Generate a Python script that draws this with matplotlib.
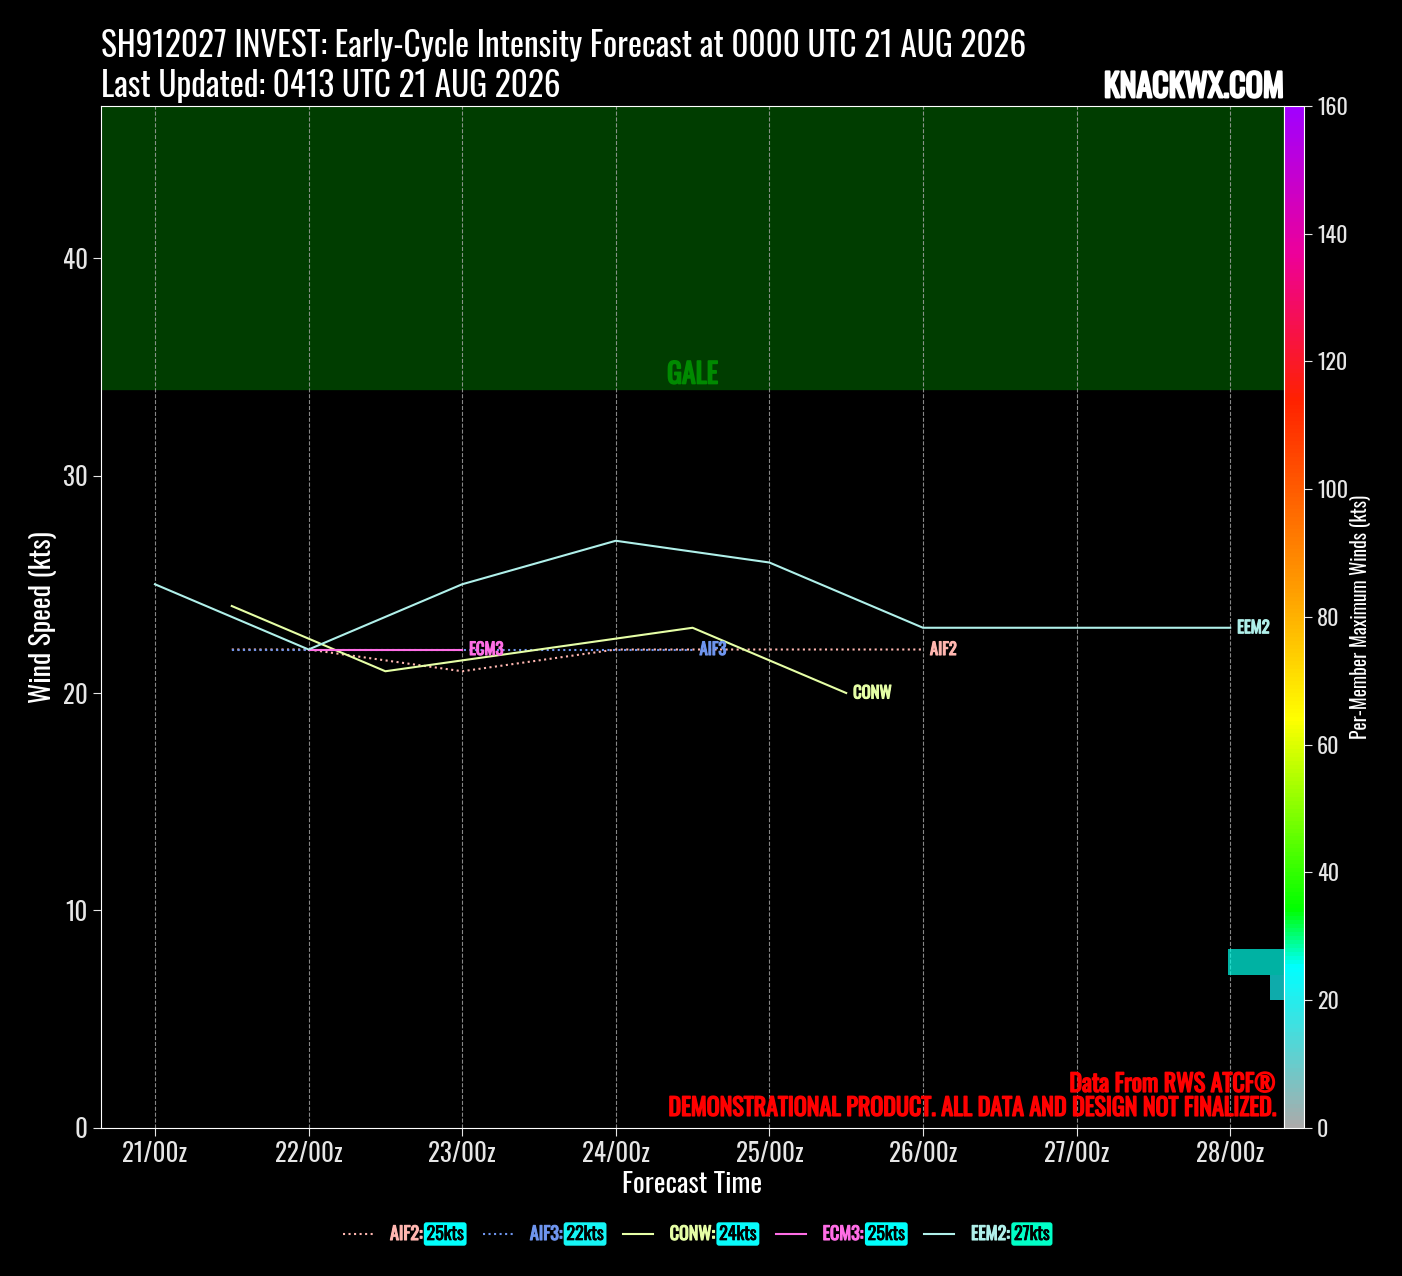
import numpy as np
import matplotlib
matplotlib.use("Agg")
import matplotlib.pyplot as plt
import matplotlib.patheffects as pe
from matplotlib.colors import LinearSegmentedColormap, Normalize
from matplotlib.lines import Line2D
import matplotlib.colorbar as mcolorbar

plt.rcParams['font.family'] = ['Oswald', 'DejaVu Sans']

# forecast hours from 0000 UTC 21 AUG
aif2_hr = [12, 24, 36, 48, 60, 72, 84, 96, 108, 120]
aif2_kt = [22, 22, 21.5, 21, 21.5, 22, 22, 22, 22, 22]
aif3_hr = [12, 24, 36, 48, 60, 72, 84]
aif3_kt = [22, 22, 22, 22, 22, 22, 22]
conw_hr = [12, 24, 36, 48, 60, 72, 84, 96, 108]
conw_kt = [24, 22.5, 21, 21.5, 22, 22.5, 23, 21.5, 20]
ecm3_hr = [24, 36, 48]
ecm3_kt = [22, 22, 22]
eem2_hr = [0, 12, 24, 36, 48, 60, 72, 84, 96, 108, 120, 132, 144, 156, 168]
eem2_kt = [25, 23.5, 22, 23.5, 25, 26, 27, 26.5, 26, 24.5, 23, 23, 23, 23, 23]

names = ['AIF2', 'AIF3', 'CONW', 'ECM3', 'EEM2']
max_winds = [25, 22, 24, 25, 27]
colors = ['#ffb6b0', '#6f95ee', '#e6ffa6', '#ff6ee6', '#b0f0ea']
styles = [':', ':', '-', '-', '-']
hours = [aif2_hr, aif3_hr, conw_hr, ecm3_hr, eem2_hr]
winds = [aif2_kt, aif3_kt, conw_kt, ecm3_kt, eem2_kt]

day_ticks = [0, 24, 48, 72, 96, 120, 144, 168]
day_labels = ['21/00z', '22/00z', '23/00z', '24/00z', '25/00z', '26/00z', '27/00z', '28/00z']

cmap = LinearSegmentedColormap.from_list('winds', [
    (0.0, (0.67, 0.67, 0.67)),
    (25 / 160, (0.0, 1.0, 1.0)),
    (34 / 160, (0.0, 1.0, 0.0)),
    (64 / 160, (1.0, 1.0, 0.0)),
    (84 / 160, (1.0, 0.62, 0.0)),
    (114 / 160, (1.0, 0.13, 0.0)),
    (137 / 160, (0.93, 0.0, 0.6)),
    (1.0, (0.63, 0.0, 1.0)),
])
norm = Normalize(0, 160)


def bold(c, w=0.9):
    # Oswald here has one weight only, so thicken the glyphs with a stroke
    return [pe.withStroke(linewidth=w, foreground=c)]


fig = plt.figure(figsize=(14.02, 12.76), dpi=100, facecolor='black')
ax = fig.add_axes([0.072, 0.116, 0.8438, 0.8011])
ax.set_facecolor('black')

ax.axhspan(34, 47, color='#003d00', zorder=0)
ax.text(84, 34.0, 'GALE', color='#008a00', fontsize=20,
        ha='center', va='bottom', path_effects=bold('#008a00', 1.2))

for n, h, w, c, s in zip(names, hours, winds, colors, styles):
    ax.plot(h, w, color=c, linestyle=s, linewidth=1.5, zorder=3)
    ax.annotate(n, (h[-1], w[-1]), xytext=(5, 0), textcoords='offset points',
                color=c, fontsize=12, va='center', zorder=4,
                path_effects=bold(c, 0.8))

ax.set_xlim(-8.44, 176.4)
ax.set_ylim(0, 47)
ax.set_xticks(day_ticks)
ax.set_xticklabels(day_labels)
ax.set_yticks([0, 10, 20, 30, 40])
ax.grid(axis='x', color='#aaaaaa', linestyle='--', linewidth=0.8, alpha=0.8)
ax.tick_params(colors='#e6e6e6', labelsize=18, length=6)
for sp in ax.spines.values():
    sp.set_color('white')
ax.set_xlabel('Forecast Time', color='white', fontsize=20, labelpad=3)
ax.set_ylabel('Wind Speed (kts)', color='white', fontsize=20)

ax.text(0.993, 0.008, 'Data From RWS ATCF®\nDEMONSTRATIONAL PRODUCT. ALL DATA AND DESIGN NOT FINALIZED.',
        transform=ax.transAxes, color='red', fontsize=17.3,
        ha='right', va='bottom', linespacing=1.05, zorder=5,
        path_effects=bold('red', 1.1))

# member max wind histogram
bins = np.arange(0, 164, 4)
counts, edges = np.histogram(max_winds, bins=bins)
hax = fig.add_axes([1228 / 1402, 0.116, 56 / 1402, 0.8011])
hax.patch.set_alpha(0)
centers = (edges[:-1] + edges[1:]) / 2
hax.barh(centers, counts, height=4, color=cmap(norm(centers)), alpha=0.7)
hax.set_xlim(4, 0)
hax.set_ylim(0, 160)
hax.axis('off')

cax = fig.add_axes([0.9158, 0.116, 0.0143, 0.8011])
cb = mcolorbar.ColorbarBase(cax, cmap=cmap, norm=norm)
cb.set_ticks(np.arange(0, 161, 20))
cb.outline.set_edgecolor('white')
cax.tick_params(colors='#e6e6e6', labelsize=16, length=6)
cb.set_label('Per-Member Maximum Winds (kts)', color='white', fontsize=14, labelpad=1)

fig.text(0.072, 0.951, 'SH912027 INVEST: Early-Cycle Intensity Forecast at 0000 UTC 21 AUG 2026',
         color='white', fontsize=24, ha='left', va='bottom')
fig.text(0.072, 0.919, 'Last Updated: 0413 UTC 21 AUG 2026',
         color='white', fontsize=24, ha='left', va='bottom')
fig.text(0.9158, 0.919, 'KNACKWX.COM', color='white', fontsize=23,
         ha='right', va='bottom', path_effects=bold('white', 1.6))

# legend
renderer = fig.canvas.get_renderer()
ly = 1 - 1234 / 1276
x0 = 343
for n, c, s, m in zip(names, colors, styles, max_winds):
    fig.add_artist(Line2D([x0 / 1402, (x0 + 30) / 1402], [ly, ly], color=c,
                          linestyle=s, linewidth=1.5))
    t = fig.text((x0 + 47) / 1402, ly, n + ':', color=c, fontsize=13,
                 va='center', ha='left', path_effects=bold(c, 0.8))
    bb = t.get_window_extent(renderer)
    b = fig.text((bb.x1 + 4) / 1402, ly, f'{m}kts', color='black', fontsize=13,
                 va='center', ha='left', path_effects=bold('black', 0.5),
                 bbox=dict(boxstyle='round,pad=0.15', fc=cmap(norm(m)), ec='none'))
    bb2 = b.get_window_extent(renderer)
    x0 = bb2.x1 + 19

fig.savefig('out.png', dpi=100, facecolor='black')
